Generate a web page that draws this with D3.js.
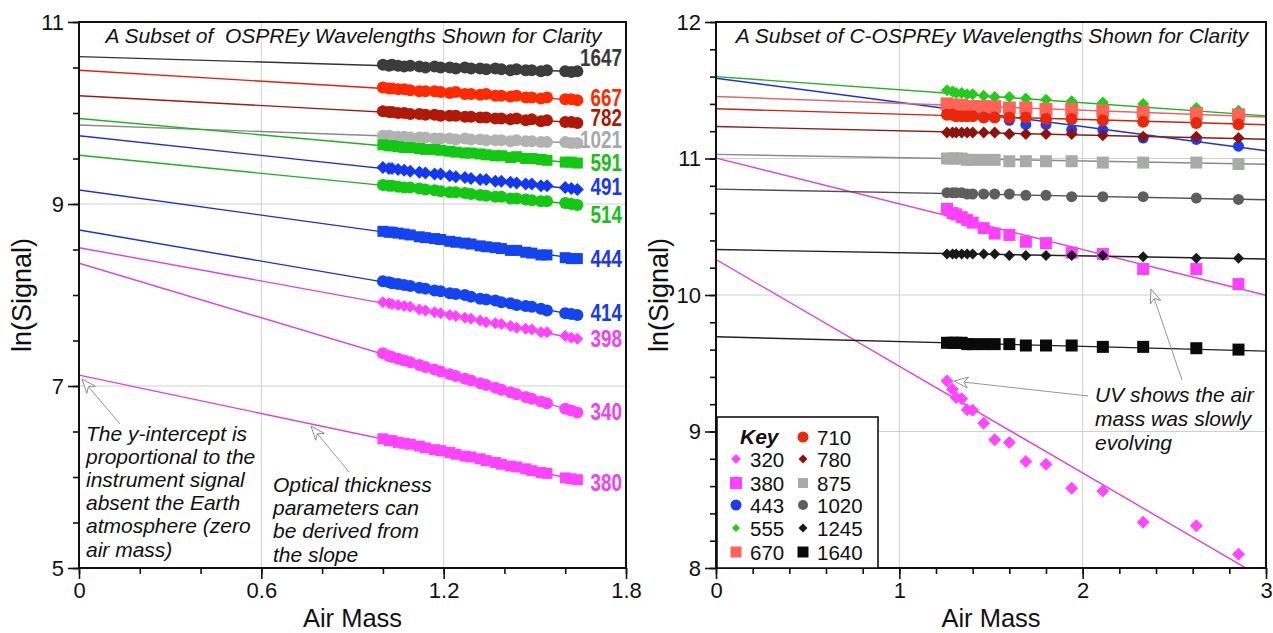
<!DOCTYPE html>
<html>
<head>
<meta charset="utf-8">
<script src="https://cdn.jsdelivr.net/npm/d3@7"></script>
<style>
  body { margin: 0; background: #fff; }
  svg { display: block; font-family: "Liberation Sans", Arial, Helvetica, sans-serif; }
</style>
</head>
<body>
<svg id="chart" width="1273" height="633"></svg>
<script>
'use strict';

/* ---------- left panel: OSPREy, ln(signal) vs air mass ---------- */

const ospreyBands = ["1647", "667", "782", "1021", "591", "491", "514", "444", "414", "398", "340", "380"];
const ospreyShape = ["circle", "circle", "circle", "circle", "square", "diamond", "circle", "square", "circle", "diamond", "circle", "square"];

// shared air mass sampling of the measurements
const ospreyAirMass = [1.00, 1.02, 1.03, 1.05, 1.07, 1.09, 1.12, 1.14, 1.17, 1.19, 1.22, 1.24, 1.27, 1.29,
  1.32, 1.34, 1.37, 1.39, 1.42, 1.44, 1.47, 1.49, 1.52, 1.54, 1.60, 1.62, 1.64];

const o1647 = [10.53, 10.52, 10.53, 10.52, 10.51, 10.52, 10.51, 10.50, 10.51, 10.50, 10.50, 10.49, 10.50, 10.49,
  10.49, 10.48, 10.49, 10.48, 10.47, 10.48, 10.47, 10.47, 10.46, 10.47, 10.46, 10.45, 10.46];
const o667 = [10.28, 10.27, 10.27, 10.26, 10.26, 10.25, 10.24, 10.24, 10.24, 10.23, 10.22, 10.23, 10.21, 10.21,
  10.20, 10.21, 10.19, 10.19, 10.18, 10.19, 10.17, 10.17, 10.16, 10.17, 10.15, 10.15, 10.14];
const o782 = [10.02, 10.01, 10.01, 10.00, 10.00, 9.99, 9.99, 9.98, 9.98, 9.97, 9.97, 9.97, 9.96, 9.96,
  9.95, 9.95, 9.94, 9.94, 9.93, 9.94, 9.92, 9.93, 9.91, 9.92, 9.90, 9.90, 9.89];
const o1021 = [9.75, 9.75, 9.74, 9.74, 9.74, 9.73, 9.73, 9.73, 9.72, 9.72, 9.72, 9.71, 9.72, 9.71,
  9.71, 9.70, 9.70, 9.70, 9.69, 9.70, 9.69, 9.69, 9.68, 9.68, 9.68, 9.67, 9.67];
const o591 = [9.65, 9.64, 9.64, 9.63, 9.62, 9.62, 9.61, 9.60, 9.60, 9.59, 9.58, 9.57, 9.56, 9.56,
  9.55, 9.54, 9.53, 9.53, 9.51, 9.52, 9.50, 9.50, 9.49, 9.48, 9.46, 9.46, 9.45];
const o491 = [9.40, 9.39, 9.39, 9.38, 9.37, 9.36, 9.35, 9.34, 9.33, 9.33, 9.31, 9.30, 9.29, 9.28,
  9.27, 9.27, 9.25, 9.25, 9.24, 9.23, 9.22, 9.22, 9.20, 9.20, 9.18, 9.17, 9.16];
const o514 = [9.21, 9.20, 9.20, 9.19, 9.18, 9.18, 9.17, 9.16, 9.15, 9.14, 9.13, 9.13, 9.12, 9.11,
  9.10, 9.09, 9.08, 9.08, 9.06, 9.06, 9.05, 9.04, 9.03, 9.03, 9.01, 9.00, 8.99];
const o444 = [8.70, 8.69, 8.69, 8.68, 8.67, 8.66, 8.64, 8.63, 8.62, 8.61, 8.59, 8.58, 8.57, 8.56,
  8.54, 8.53, 8.52, 8.51, 8.49, 8.49, 8.47, 8.46, 8.44, 8.44, 8.41, 8.40, 8.40];
const o414 = [8.15, 8.14, 8.13, 8.12, 8.11, 8.10, 8.08, 8.07, 8.05, 8.04, 8.02, 8.01, 8.00, 7.98,
  7.96, 7.95, 7.94, 7.92, 7.91, 7.89, 7.88, 7.87, 7.85, 7.83, 7.80, 7.79, 7.78];
const o398 = [7.92, 7.91, 7.90, 7.89, 7.88, 7.87, 7.84, 7.83, 7.81, 7.80, 7.78, 7.77, 7.75, 7.74,
  7.72, 7.70, 7.69, 7.68, 7.66, 7.64, 7.63, 7.62, 7.59, 7.59, 7.55, 7.53, 7.52];
const o340 = [7.36, 7.33, 7.32, 7.30, 7.28, 7.26, 7.23, 7.21, 7.18, 7.16, 7.13, 7.11, 7.08, 7.06,
  7.03, 7.01, 6.98, 6.96, 6.93, 6.91, 6.88, 6.86, 6.83, 6.81, 6.75, 6.73, 6.71];
const o380 = [6.42, 6.40, 6.40, 6.38, 6.37, 6.36, 6.34, 6.32, 6.30, 6.29, 6.27, 6.25, 6.23, 6.22,
  6.20, 6.18, 6.16, 6.14, 6.12, 6.11, 6.09, 6.07, 6.05, 6.04, 5.99, 5.98, 5.97];

// Langley fits: ln(signal) at zero air mass and slope
const ospreyIntercept = [10.62, 10.47, 10.19, 9.868, 9.94, 9.75, 9.535, 9.154, 8.714, 8.52, 8.35, 7.12];
const ospreySlope = [-0.10, -0.20, -0.18, -0.12, -0.30, -0.36, -0.33, -0.46, -0.57, -0.61, -1.0, -0.703];

/* ---------- right panel: C-OSPREy ---------- */

const cospreyBands = ["320", "380", "443", "555", "670", "710", "780", "875", "1020", "1245", "1640"];
const cospreyShape = ["diamond", "square", "circle", "diamond", "square", "circle", "diamond", "square", "circle", "diamond", "square"];

const cospreyAirMass = [1.26, 1.29, 1.31, 1.34, 1.37, 1.40, 1.46, 1.52, 1.60, 1.69, 1.80, 1.94, 2.11, 2.33, 2.62, 2.85];

const c320 = [9.37, 9.31, 9.25, 9.24, 9.16, 9.155, 9.06, 8.94, 8.92, 8.78, 8.76, 8.585, 8.565, 8.335, 8.31, 8.10];
const c380 = [10.63, 10.60, 10.59, 10.57, 10.55, 10.53, 10.49, 10.45, 10.44, 10.39, 10.38, 10.31, 10.30, 10.19, 10.19, 10.08];
const c443 = [11.36, 11.35, 11.35, 11.34, 11.33, 11.33, 11.31, 11.30, 11.28, 11.25, 11.25, 11.21, 11.21, 11.15, 11.14, 11.09];
const c555 = [11.50, 11.49, 11.48, 11.48, 11.47, 11.47, 11.46, 11.45, 11.45, 11.44, 11.43, 11.42, 11.41, 11.40, 11.37, 11.35];
const c670 = [11.40, 11.39, 11.39, 11.39, 11.38, 11.38, 11.38, 11.38, 11.37, 11.37, 11.36, 11.36, 11.35, 11.34, 11.33, 11.32];
const c710 = [11.32, 11.32, 11.31, 11.31, 11.31, 11.31, 11.30, 11.30, 11.30, 11.30, 11.29, 11.29, 11.28, 11.27, 11.26, 11.25];
const c780 = [11.19, 11.19, 11.19, 11.19, 11.19, 11.19, 11.19, 11.19, 11.18, 11.18, 11.18, 11.18, 11.17, 11.16, 11.16, 11.15];
const c875 = [11.00, 11.00, 11.00, 11.00, 10.99, 10.99, 10.99, 10.99, 10.98, 10.98, 10.98, 10.98, 10.97, 10.97, 10.97, 10.96];
const c1020 = [10.75, 10.75, 10.75, 10.75, 10.74, 10.74, 10.74, 10.74, 10.74, 10.73, 10.73, 10.72, 10.72, 10.72, 10.71, 10.70];
const c1245 = [10.30, 10.30, 10.30, 10.30, 10.30, 10.30, 10.30, 10.30, 10.29, 10.29, 10.29, 10.29, 10.29, 10.28, 10.27, 10.27];
const c1640 = [9.65, 9.65, 9.65, 9.65, 9.64, 9.64, 9.64, 9.64, 9.64, 9.63, 9.63, 9.63, 9.62, 9.62, 9.61, 9.60];

const cospreyIntercept = [10.26, 11.003, 11.588, 11.60, 11.454, 11.364, 11.234, 11.03, 10.776, 10.333, 9.694];
const cospreySlope = [-0.782, -0.335, -0.177, -0.096, -0.05, -0.039, -0.031, -0.024, -0.026, -0.023, -0.035];

/* ---------- styling ---------- */

const ospreyFill = ["#3c3c3c", "#ff2a00", "#b01808", "#b2b2b2", "#12c812", "#1438f0", "#12c812",
  "#1444f0", "#1444f0", "#ff44ff", "#ff44ff", "#ff44ff"];
const ospreyLine = ["#333", "#e02010", "#9a1a10", "#8a8a8a", "#20b020", "#1a30d0", "#20b020",
  "#1a30d0", "#1a30d0", "#dd40dd", "#dd40dd", "#dd40dd"];
const ospreyLabelColor = ["#3a3a3a", "#ff2a00", "#a81a08", "#a8a8a8", "#18c018", "#1a3ae8", "#18c018",
  "#1a3ae8", "#1a3ae8", "#f040f0", "#f040f0", "#f040f0"];
const ospreyMarkerSize = [12, 12, 12, 12, 11, 13, 12, 11, 12, 12, 12, 11];
const ospreyLabelNudge = [-13, -2, -5, -3, 0, -2, 10, 0, -2, 0, 0, 3];

const cospreyFill = ["#ff48ff", "#ff40ff", "#1e3cf0", "#22cc1a", "#ff6459", "#e8280a", "#8c1410",
  "#a8aba8", "#5e5e5e", "#1a1a1a", "#0a0a0a"];
const cospreyLine = ["#dd40dd", "#dd40dd", "#2030d8", "#20b020", "#e06a6a", "#cc2010", "#8a1a12",
  "#8a8a8a", "#505050", "#202020", "#202020"];
const cospreyMarkerSize = [13, 12, 11, 12, 13, 12, 12, 12, 11, 11, 12];
const cospreyKeySize = [10, 12, 11, 8, 11, 11, 9, 10, 10, 9, 11];

const sig = {
  "1647": o1647, "667": o667, "782": o782, "1021": o1021, "591": o591, "491": o491,
  "514": o514, "444": o444, "414": o414, "398": o398, "340": o340, "380": o380
};
const csig = {
  "320": c320, "380": c380, "443": c443, "555": c555, "670": c670, "710": c710,
  "780": c780, "875": c875, "1020": c1020, "1245": c1245, "1640": c1640
};

// rhombus whose diagonals are equal (the d3 diamond is too narrow)
const rhombus = {
  draw(ctx, size) {
    const r = Math.sqrt(size / 2);
    ctx.moveTo(0, -r); ctx.lineTo(r, 0); ctx.lineTo(0, r); ctx.lineTo(-r, 0); ctx.closePath();
  }
};
function symbolPath(shape, w) {
  if (shape === "circle") return d3.symbol(d3.symbolCircle, Math.PI * w * w / 4)();
  if (shape === "square") return d3.symbol(d3.symbolSquare, w * w)();
  return d3.symbol(rhombus, w * w / 2)();
}

const svg = d3.select("#chart");
svg.append("rect").attr("width", 1273).attr("height", 633).attr("fill", "#fff");

const defs = svg.append("defs");
// hollow arrow head, tip at the end of the line
defs.append("marker")
  .attr("id", "hollow")
  .attr("viewBox", "-16 -7 17 14")
  .attr("refX", 0).attr("refY", 0)
  .attr("markerUnits", "userSpaceOnUse")
  .attr("markerWidth", 17).attr("markerHeight", 14)
  .attr("orient", "auto")
  .append("path")
    .attr("d", "M0,0 L-14,-5.5 L-10,0 L-14,5.5 Z")
    .attr("fill", "#fff")
    .attr("stroke", "#8a8a8a")
    .attr("stroke-width", 0.9);

function panel(opt) {
  const x = d3.scaleLinear().domain(opt.xDomain).range([opt.left, opt.right]);
  const y = d3.scaleLinear().domain(opt.yDomain).range([opt.bottom, opt.top]);
  const g = svg.append("g");

  const clipId = "clip" + opt.left;
  defs.append("clipPath").attr("id", clipId)
    .append("rect")
      .attr("x", opt.left).attr("y", opt.top)
      .attr("width", opt.right - opt.left).attr("height", opt.bottom - opt.top);

  // grid at the major ticks
  g.append("g").selectAll("line")
    .data(opt.xMajor.filter(v => v > opt.xDomain[0] && v < opt.xDomain[1]))
    .join("line")
      .attr("x1", d => x(d)).attr("x2", d => x(d))
      .attr("y1", opt.top).attr("y2", opt.bottom)
      .attr("stroke", "#cfcfcf").attr("stroke-width", 1);
  g.append("g").selectAll("line")
    .data(opt.yMajor.filter(v => v > opt.yDomain[0] && v < opt.yDomain[1]))
    .join("line")
      .attr("x1", opt.left).attr("x2", opt.right)
      .attr("y1", d => y(d)).attr("y2", d => y(d))
      .attr("stroke", "#cfcfcf").attr("stroke-width", 1);

  // fitted lines
  const lines = g.append("g").attr("clip-path", `url(#${clipId})`);
  opt.bands.forEach((b, i) => {
    const x1 = opt.lineEnd;
    lines.append("line")
      .attr("x1", x(0)).attr("y1", y(opt.intercept[i]))
      .attr("x2", x(x1)).attr("y2", y(opt.intercept[i] + opt.slope[i] * x1))
      .attr("stroke", opt.lineColor[i]).attr("stroke-width", 1.4);
  });

  // measurements
  const pts = g.append("g").attr("clip-path", `url(#${clipId})`);
  opt.bands.forEach((b, i) => {
    const vals = opt.values[b];
    const data = opt.airMass.map((am, k) => [am, vals[k]]).filter(d => d[1] != null);
    const p = symbolPath(opt.shape[i], opt.size[i]);
    pts.append("g").selectAll("path")
      .data(data)
      .join("path")
        .attr("transform", d => `translate(${x(d[0])},${y(d[1])})`)
        .attr("d", p)
        .attr("fill", opt.fill[i]);
  });

  // axes: major with labels, minor without
  const fmt = opt.fmt;
  g.append("g").attr("transform", `translate(0,${opt.bottom})`)
    .call(d3.axisBottom(x).tickValues(opt.xMinor).tickSize(6).tickFormat(""));
  g.append("g").attr("transform", `translate(0,${opt.bottom})`)
    .call(d3.axisBottom(x).tickValues(opt.xMajor).tickSize(11).tickPadding(3).tickFormat(fmt));
  g.append("g").attr("transform", `translate(${opt.left},0)`)
    .call(d3.axisLeft(y).tickValues(opt.yMinor).tickSize(6).tickFormat(""));
  g.append("g").attr("transform", `translate(${opt.left},0)`)
    .call(d3.axisLeft(y).tickValues(opt.yMajor).tickSize(11).tickPadding(4).tickFormat(d3.format("d")));

  g.selectAll(".domain").remove();
  g.selectAll(".tick line").attr("stroke", "#111").attr("stroke-width", 1.6);
  g.selectAll(".tick text").attr("font-size", 22).attr("fill", "#111")
    .attr("font-family", "Liberation Sans, Arial, sans-serif");

  // frame
  g.append("rect")
    .attr("x", opt.left).attr("y", opt.top)
    .attr("width", opt.right - opt.left).attr("height", opt.bottom - opt.top)
    .attr("fill", "none").attr("stroke", "#111").attr("stroke-width", 2);

  // titles
  g.append("text")
    .attr("x", (opt.left + opt.right) / 2 + 1).attr("y", 43)
    .attr("text-anchor", "middle").attr("font-style", "italic").attr("font-size", 21)
    .attr("fill", "#111").attr("xml:space", "preserve")
    .text(opt.title);
  g.append("text")
    .attr("x", (opt.left + opt.right) / 2).attr("y", 627)
    .attr("text-anchor", "middle").attr("font-size", 25.5).attr("fill", "#111")
    .text("Air Mass");
  g.append("text")
    .attr("transform", `translate(${opt.left - 48},${(opt.top + opt.bottom) / 2}) rotate(-90)`)
    .attr("text-anchor", "middle").attr("font-size", 27).attr("fill", "#111")
    .text("ln(Signal)");

  return { x, y, g };
}

/* left panel */
const L = panel({
  left: 79, right: 626, top: 22, bottom: 568,
  xDomain: [0, 1.8], yDomain: [5, 11],
  xMajor: [0, 0.6, 1.2, 1.8], xMinor: d3.range(0, 1.81, 0.2),
  yMajor: [5, 7, 9, 11], yMinor: d3.range(5, 11.01, 0.5),
  fmt: d => d === 0 ? "0" : d3.format(".1f")(d),
  bands: ospreyBands, shape: ospreyShape, values: sig, airMass: ospreyAirMass,
  intercept: ospreyIntercept, slope: ospreySlope, lineEnd: 1.64,
  lineColor: ospreyLine, fill: ospreyFill, size: ospreyMarkerSize,
  title: "A Subset of  OSPREy Wavelengths Shown for Clarity"
});

// band labels at the end of each series
ospreyBands.forEach((b, i) => {
  const v = sig[b][sig[b].length - 1];
  L.g.append("text")
    .attr("transform", `translate(622,${L.y(v) + ospreyLabelNudge[i] + 8}) scale(0.82,1)`)
    .attr("text-anchor", "end").attr("font-weight", "bold").attr("font-size", 23)
    .attr("fill", ospreyLabelColor[i])
    .text(b);
});

/* right panel */
const R = panel({
  left: 716, right: 1266, top: 22, bottom: 568,
  xDomain: [0, 3], yDomain: [8, 12],
  xMajor: [0, 1, 2, 3], xMinor: d3.range(0, 3.01, 0.2),
  yMajor: [8, 9, 10, 11, 12], yMinor: d3.range(8, 12.01, 0.2),
  fmt: d3.format("d"),
  bands: cospreyBands, shape: cospreyShape, values: csig, airMass: cospreyAirMass,
  intercept: cospreyIntercept, slope: cospreySlope, lineEnd: 3,
  lineColor: cospreyLine, fill: cospreyFill, size: cospreyMarkerSize,
  title: "A Subset of C-OSPREy Wavelengths Shown for Clarity"
});

/* annotations */
function note(lines, x0, y0, step) {
  const t = svg.append("text").attr("font-style", "italic").attr("font-size", 21).attr("fill", "#111");
  lines.forEach((s, i) => t.append("tspan").attr("x", x0).attr("y", y0 + i * step).text(s));
}
function arrow(x1, y1, x2, y2) {
  svg.append("line")
    .attr("x1", x1).attr("y1", y1).attr("x2", x2).attr("y2", y2)
    .attr("stroke", "#8a8a8a").attr("stroke-width", 0.9)
    .attr("marker-end", "url(#hollow)");
}

note(["The y-intercept is", "proportional to the", "instrument signal", "absent the Earth",
  "atmosphere (zero", "air mass)"], 86, 441, 23.1);
note(["Optical thickness", "parameters can", "be derived from", "the slope"], 273, 492, 23.2);
note(["UV shows the air", "mass was slowly", "evolving"], 1095, 402, 24);

arrow(120, 424, 82, 379);
arrow(349, 472, 311, 426);
arrow(1088, 396, 954, 381);
arrow(1182, 380, 1151, 289);

/* key */
const key = svg.append("g");
key.append("rect")
  .attr("x", 717).attr("y", 417).attr("width", 161).attr("height", 151)
  .attr("fill", "#fff").attr("stroke", "#111").attr("stroke-width", 1.6);
key.append("text")
  .attr("x", 740).attr("y", 444)
  .attr("font-weight", "bold").attr("font-style", "italic").attr("font-size", 21).attr("fill", "#111")
  .text("Key");

// first column below "Key", second column from the top row
const keyRows = [459, 483, 505, 528, 552];
const keyRows2 = [437, 459, 483, 505, 528, 552];
cospreyBands.forEach((b, i) => {
  const col = i < 5 ? 0 : 1;
  const cy = col === 0 ? keyRows[i] : keyRows2[i - 5];
  const mx = col === 0 ? 736 : 803;
  key.append("path")
    .attr("transform", `translate(${mx},${cy})`)
    .attr("d", symbolPath(cospreyShape[i], cospreyKeySize[i]))
    .attr("fill", cospreyFill[i]);
  key.append("text")
    .attr("x", mx + 14).attr("y", cy + 7.5)
    .attr("font-size", 20.5).attr("fill", "#111")
    .text(b);
});
</script>
</body>
</html>
